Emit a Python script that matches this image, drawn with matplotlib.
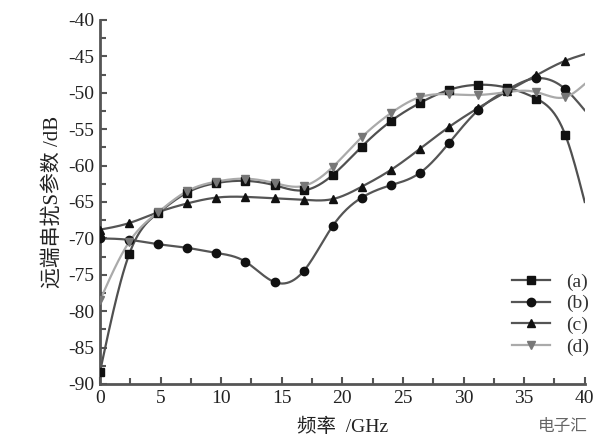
import numpy as np
import matplotlib
matplotlib.use("Agg")
import matplotlib.pyplot as plt
from matplotlib.ticker import MultipleLocator

plt.rcParams['font.family'] = ['Liberation Serif', 'Noto Sans CJK SC', 'DejaVu Sans']

freq = [0, 2.4, 4.8, 7.2, 9.6, 12.0, 14.4, 16.8, 19.2, 21.6, 24.0, 26.4, 28.8, 31.2, 33.6, 36.0, 38.4, 40.0]
s_a = [-88.3, -72.2, -66.5, -63.7, -62.4, -62.1, -62.7, -63.4, -61.3, -57.4, -53.9, -51.4, -49.6, -48.9, -49.3, -50.8, -55.8, -65.0]
s_b = [-70.0, -70.2, -70.8, -71.3, -72.0, -73.2, -76.0, -74.5, -68.3, -64.4, -62.7, -61.0, -56.9, -52.4, -49.6, -48.0, -49.5, -52.4]
s_c = [-68.8, -67.9, -66.4, -65.2, -64.4, -64.3, -64.5, -64.7, -64.6, -62.9, -60.6, -57.7, -54.7, -52.1, -49.8, -47.6, -45.6, -44.7]
s_d = [-78.5, -70.5, -66.4, -63.5, -62.2, -61.8, -62.4, -62.8, -60.2, -56.1, -52.8, -50.6, -50.2, -50.3, -49.9, -49.9, -50.6, -48.8]
labels = ['(a)', '(b)', '(c)', '(d)']
xticks = [0, 5, 10, 15, 20, 25, 30, 35, 40]
yticks = [-90, -85, -80, -75, -70, -65, -60, -55, -50, -45, -40]


def natural_spline(x, y, n=400):
    x = np.asarray(x, float); y = np.asarray(y, float)
    m = len(x); h = np.diff(x)
    A = np.zeros((m, m)); r = np.zeros(m)
    A[0, 0] = A[-1, -1] = 1
    for i in range(1, m - 1):
        A[i, i - 1] = h[i - 1]; A[i, i] = 2 * (h[i - 1] + h[i]); A[i, i + 1] = h[i]
        r[i] = 6 * ((y[i + 1] - y[i]) / h[i] - (y[i] - y[i - 1]) / h[i - 1])
    M = np.linalg.solve(A, r)
    xs = np.linspace(x[0], x[-1], n)
    idx = np.clip(np.searchsorted(x, xs) - 1, 0, m - 2)
    x0 = x[idx]; x1 = x[idx + 1]; hh = x1 - x0
    t0 = x1 - xs; t1 = xs - x0
    ys = (M[idx] * t0 ** 3 + M[idx + 1] * t1 ** 3) / (6 * hh) + \
         (y[idx] / hh - M[idx] * hh / 6) * t0 + (y[idx + 1] / hh - M[idx + 1] * hh / 6) * t1
    return xs, ys


fig = plt.figure(figsize=(6.11, 4.48), dpi=100)
ax = fig.add_axes([0.1637, 0.1429, 0.7933, 0.8125])

styles = [
    (s_a, 's', '#505050', '#111111'),
    (s_b, 'o', '#555555', '#111111'),
    (s_c, '^', '#555555', '#111111'),
    (s_d, 'v', '#aaaaaa', '#777777'),
]
handles = []
for (ser, mk, lc, mc), lab in zip(styles, labels):
    xs, ys = natural_spline(freq, ser)
    ax.plot(xs, ys, color=lc, lw=1.6, zorder=2)
    ax.plot(freq[:-1], ser[:-1], ls='none', marker=mk, ms=6, color=mc, zorder=3)
    h, = ax.plot([], [], color=lc, lw=1.6, marker=mk, ms=6, mfc=mc, mec=mc, label=lab)
    handles.append(h)

ax.set_xlim(0, 40)
ax.set_ylim(-90, -40)
ax.set_xticks(xticks)
ax.set_yticks(yticks)
ax.set_xticklabels([str(v) for v in xticks])
ax.set_yticklabels([str(v) for v in yticks])
ax.xaxis.set_minor_locator(MultipleLocator(2.5))
ax.yaxis.set_minor_locator(MultipleLocator(2.5))
for s in ['top', 'right']:
    ax.spines[s].set_visible(False)
for s in ['left', 'bottom']:
    ax.spines[s].set_color('#555555')
    ax.spines[s].set_linewidth(2.0)
ax.tick_params(which='both', direction='in', color='#555555', width=1.5, labelsize=14, labelcolor='#222222', pad=4)
ax.tick_params(which='major', length=5)
ax.tick_params(which='minor', length=4)

ax.set_xlabel('频率  /GHz', fontsize=14, color='#222222', labelpad=8)
ax.set_ylabel('远端串扰S参数 /dB', fontsize=15, color='#222222', labelpad=4)

leg = ax.legend(handles=handles, loc='lower right', bbox_to_anchor=(1.045, 0.03), frameon=False,
                fontsize=14, handlelength=2.0, labelspacing=0.2, handletextpad=0.8)
for t in leg.get_texts():
    t.set_color('#333333')

fig.text(0.962, 0.03, '电子汇', fontsize=12, color='#666666', ha='right', va='bottom',
         family=['Noto Sans CJK SC'])

fig.savefig('out.png', dpi=100)
